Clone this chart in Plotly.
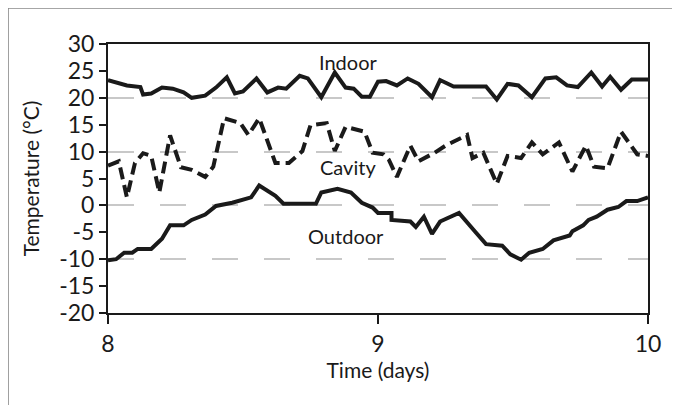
import plotly.graph_objects as go

# ---- data ----
indoor_t = [8.00, 8.07, 8.12, 8.13, 8.16, 8.20, 8.24, 8.28, 8.31, 8.36, 8.40, 8.44, 8.47, 8.50,
            8.55, 8.59, 8.63, 8.66, 8.71, 8.74, 8.79, 8.84, 8.88, 8.91, 8.94, 8.97, 9.00, 9.03,
            9.07, 9.11, 9.15, 9.20, 9.23, 9.28, 9.38, 9.40, 9.44, 9.48, 9.52, 9.57, 9.62, 9.66,
            9.70, 9.74, 9.79, 9.83, 9.86, 9.90, 9.94, 10.00]
indoor_v = [23.3, 22.3, 22.0, 20.6, 20.8, 21.9, 21.7, 21.0, 20.0, 20.4, 21.9, 23.8, 20.8, 21.2,
            23.6, 21.0, 21.9, 21.7, 24.1, 23.6, 20.1, 24.7, 21.9, 21.7, 20.2, 20.2, 23.0, 23.1,
            22.3, 23.6, 22.6, 20.1, 23.3, 22.1, 22.1, 22.1, 19.7, 22.6, 22.3, 20.1, 23.6, 23.8,
            22.3, 22.0, 24.7, 22.1, 23.9, 21.5, 23.4, 23.4]

cavity_t = [8.00, 8.04, 8.07, 8.10, 8.13, 8.16, 8.19, 8.23, 8.27, 8.31, 8.36, 8.39, 8.43, 8.49,
            8.52, 8.56, 8.62, 8.67, 8.72, 8.75, 8.81, 8.84, 8.88, 8.95, 8.98, 9.02, 9.04, 9.07,
            9.12, 9.15, 9.21, 9.25, 9.33, 9.35, 9.39, 9.44, 9.48, 9.53, 9.57, 9.61, 9.67, 9.72,
            9.77, 9.80, 9.85, 9.90, 9.96, 10.00]
cavity_v = [7.4, 8.2, 1.5, 7.9, 9.7, 9.2, 2.4, 13.0, 7.1, 6.6, 5.3, 7.2, 16.2, 15.3,
            13.1, 16.2, 7.9, 7.9, 10.1, 14.9, 15.3, 10.1, 14.6, 13.7, 9.8, 9.5, 8.5, 5.3,
            11.1, 8.2, 9.8, 11.1, 13.1, 8.8, 9.8, 4.0, 9.2, 8.8, 11.7, 9.5, 11.7, 6.3,
            11.1, 7.2, 6.9, 13.7, 9.5, 9.2]

outdoor_t = [8.00, 8.03, 8.06, 8.09, 8.11, 8.16, 8.20, 8.23, 8.28, 8.31, 8.36, 8.40, 8.46, 8.53,
             8.56, 8.62, 8.65, 8.77, 8.79, 8.85, 8.90, 8.94, 8.98, 9.00, 9.05, 9.05, 9.12, 9.14,
             9.17, 9.20, 9.23, 9.30, 9.36, 9.40, 9.46, 9.49, 9.53, 9.56, 9.61, 9.65, 9.71, 9.72,
             9.76, 9.78, 9.81, 9.85, 9.89, 9.92, 9.96, 10.00]
outdoor_v = [-10.2, -10.0, -8.8, -8.8, -8.1, -8.1, -6.2, -3.7, -3.7, -2.7, -1.7, -0.1, 0.5, 1.5,
             3.7, 1.8, 0.3, 0.3, 2.4, 3.1, 2.4, 0.5, -0.4, -1.4, -1.4, -2.7, -3.0, -4.0,
             -2.1, -5.3, -3.0, -1.4, -4.9, -7.2, -7.5, -9.1, -10.1, -8.8, -8.1, -6.5, -5.6, -4.8,
             -3.7, -2.7, -2.1, -0.8, -0.3, 0.8, 0.8, 1.5]

series_labels = ["Indoor", "Cavity", "Outdoor"]
label_t = [8.89, 8.89, 8.88]
label_v = [26.6, 7.2, -5.6]

x_ticks = [8, 9, 10]
y_tickvals = [30, 25, 20, 15, 10, 5, 0, -5, -10, -15, -20]
y_ticktext = ["30", "25", "20", "15", "10", "5", "0", "-5", "-10", "-15", "-20"]
y_grid_vals = [20, 10, 0, -10]
y_range = [-20, 30]

FONT = "Lato"
INK = "#1a1a1a"

fig = go.Figure()
# empty trace so the background (grid) axis is created
fig.add_trace(go.Scatter(x=[None], y=[None], yaxis="y", showlegend=False, hoverinfo="skip"))
common = dict(mode="lines", yaxis="y2", showlegend=False, hoverinfo="skip")
fig.add_trace(go.Scatter(x=indoor_t, y=indoor_v, line=dict(color=INK, width=4), **common))
fig.add_trace(go.Scatter(x=cavity_t, y=cavity_v, line=dict(color=INK, width=4, dash="12px,6px"), **common))
fig.add_trace(go.Scatter(x=outdoor_t, y=outdoor_v, line=dict(color=INK, width=4), **common))

for name, t, v in zip(series_labels, label_t, label_v):
    fig.add_annotation(x=t, y=v, xref="x", yref="y2", text=name, showarrow=False,
                       font=dict(family=FONT, size=20, color=INK))

# outer page border (left and top edges visible in the scan)
fig.add_shape(type="line", xref="paper", yref="paper", x0=-0.186, x1=-0.186, y0=-0.5, y1=1.134,
              line=dict(color="#555", width=2))
fig.add_shape(type="line", xref="paper", yref="paper", x0=-0.186, x1=1.2, y0=1.134, y1=1.134,
              line=dict(color="#888", width=1.5))

fig.update_layout(
    width=672, height=397,
    margin=dict(l=100, r=32, t=36, b=92),
    paper_bgcolor="white", plot_bgcolor="white",
    font=dict(family=FONT, color=INK),
    xaxis=dict(range=[8, 10], tickvals=x_ticks, ticks="outside", ticklen=9, tickwidth=2,
               tickcolor=INK, showline=True, linecolor=INK, linewidth=2, mirror=True,
               showgrid=False, zeroline=False, automargin=False,
               tickfont=dict(size=23, family=FONT, color=INK),
               title=dict(text="Time (days)", font=dict(size=21, family=FONT, color=INK), standoff=8)),
    yaxis=dict(range=y_range, tickvals=y_grid_vals, showgrid=True, gridcolor="#c8c8c8", gridwidth=1.5,
               griddash="26px,26px", showticklabels=False, ticks="", showline=False,
               zeroline=False, automargin=False),
    yaxis2=dict(range=y_range, tickvals=y_tickvals, ticktext=y_ticktext, overlaying="y", side="left",
                ticks="outside", ticklen=7, tickwidth=2, tickcolor=INK, showline=True, linecolor=INK,
                linewidth=2, mirror=True, showgrid=False, zeroline=False, automargin=False,
                tickfont=dict(size=23, family=FONT, color=INK),
                title=dict(text="Temperature (°C)", font=dict(size=21, family=FONT, color=INK), standoff=14)),
)

fig.write_html("out.html")
